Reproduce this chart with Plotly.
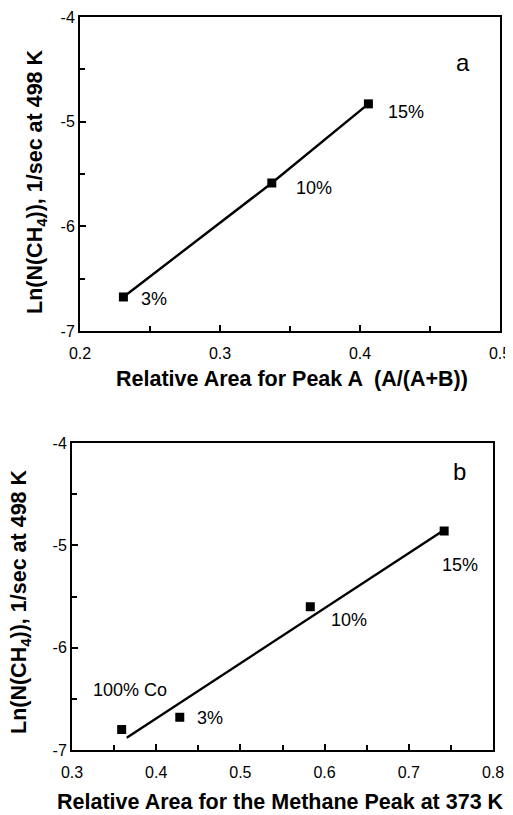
import plotly.graph_objects as go

# ---- data: panel a ----
a_x = [0.231, 0.337, 0.406]
a_y = [-6.675, -5.586, -4.83]
a_labels = ["3%", "10%", "15%"]

# ---- data: panel b ----
b_x = [0.359, 0.428, 0.583, 0.742]
b_y = [-6.80, -6.68, -5.60, -4.86]
b_labels = ["100% Co", "3%", "10%", "15%"]
b_fit_x = [0.365, 0.742]
b_fit_y = [-6.88, -4.85]

a_xticks = [0.2, 0.3, 0.4, 0.5]
b_xticks = [0.3, 0.4, 0.5, 0.6, 0.7, 0.8]
yticks = [-7, -6, -5, -4]

# page body has an 8px default margin; size the figure to fit the window
OFF = 8
W, H = 513 - OFF, 815 - OFF
FONT = "Liberation Sans, Arial, Helvetica, sans-serif"

fig = go.Figure()

fig.add_trace(go.Scatter(x=a_x, y=a_y, mode="lines+markers",
                         line=dict(color="black", width=2.4),
                         marker=dict(symbol="square", size=9, color="black"),
                         xaxis="x", yaxis="y", showlegend=False))
fig.add_trace(go.Scatter(x=b_fit_x, y=b_fit_y, mode="lines",
                         line=dict(color="black", width=2.4),
                         xaxis="x2", yaxis="y2", showlegend=False))
fig.add_trace(go.Scatter(x=b_x, y=b_y, mode="markers",
                         marker=dict(symbol="square", size=9, color="black"),
                         xaxis="x2", yaxis="y2", showlegend=False))

def px_x(p):
    return (p - OFF) / W

def px_y(p):
    return 1 - (p - OFF) / H

axis_common = dict(showline=True, linecolor="black", linewidth=2, mirror=True,
                   ticks="inside", ticklen=6, tickwidth=1.5, tickcolor="black",
                   showgrid=False, zeroline=False, automargin=False,
                   tickfont=dict(family=FONT, size=16, color="black"))

fig.update_layout(
    width=W, height=H, margin=dict(l=0, r=0, t=0, b=0, autoexpand=False),
    paper_bgcolor="white", plot_bgcolor="white",
    xaxis=dict(axis_common, domain=[px_x(80), px_x(500)], range=[0.2, 0.5],
               tickvals=a_xticks, ticktext=[str(v) for v in a_xticks],
               ticklabelstandoff=7,
               minor=dict(ticks="inside", dtick=0.05, tick0=0.2, ticklen=5,
                          tickwidth=1.5, tickcolor="black"),
               anchor="y"),
    yaxis=dict(axis_common, domain=[px_y(331), px_y(17)], range=[-7, -4],
               tickvals=yticks, ticktext=[str(v) for v in yticks],
               minor=dict(ticks="inside", dtick=0.5, tick0=-7, ticklen=5,
                          tickwidth=1.5, tickcolor="black"),
               anchor="x"),
    xaxis2=dict(axis_common, domain=[px_x(72), px_x(493)], range=[0.3, 0.8],
                tickvals=b_xticks, ticktext=[str(v) for v in b_xticks],
                ticklabelstandoff=7,
                minor=dict(ticks="inside", dtick=0.05, tick0=0.3, ticklen=5,
                           tickwidth=1.5, tickcolor="black"),
                anchor="y2"),
    yaxis2=dict(axis_common, domain=[px_y(750), px_y(443)], range=[-7, -4],
                tickvals=yticks, ticktext=[str(v) for v in yticks],
                minor=dict(ticks="inside", dtick=0.5, tick0=-7, ticklen=5,
                           tickwidth=1.5, tickcolor="black"),
                anchor="x2"),
)

ann = []
title_font = dict(family=FONT, size=21.5, color="black")
ytitle = "<b>Ln(N(CH<sub>4</sub>)), 1/sec at 498 K</b>"
ann.append(dict(text=ytitle, xref="paper", yref="paper", x=px_x(36), y=px_y(182),
                textangle=-90, showarrow=False, font=title_font,
                xanchor="center", yanchor="middle"))
ann.append(dict(text=ytitle, xref="paper", yref="paper", x=px_x(20), y=px_y(602),
                textangle=-90, showarrow=False, font=title_font,
                xanchor="center", yanchor="middle"))
ann.append(dict(text="<b>Relative Area for Peak A  (A/(A+B))</b>", xref="paper", yref="paper",
                x=px_x(292), y=px_y(379), showarrow=False, font=title_font,
                xanchor="center", yanchor="middle"))
ann.append(dict(text="<b>Relative Area for the Methane Peak at 373 K</b>", xref="paper", yref="paper",
                x=px_x(280), y=px_y(802), showarrow=False, font=title_font,
                xanchor="center", yanchor="middle"))
# panel letters
ann.append(dict(text="a", xref="paper", yref="paper", x=px_x(472), y=px_y(47),
                showarrow=False, font=dict(family=FONT, size=24, color="black")))
ann.append(dict(text="b", xref="paper", yref="paper", x=px_x(468), y=px_y(471),
                showarrow=False, font=dict(family=FONT, size=24, color="black")))

lab_font = dict(family=FONT, size=18, color="black")
a_offsets = [(16, -2), (22, -5), (18, -8)]
for xv, yv, t, (dx, dy) in zip(a_x, a_y, a_labels, a_offsets):
    ann.append(dict(text=t, x=xv, y=yv, xref="x", yref="y", showarrow=False,
                    xanchor="left", yanchor="middle", xshift=dx, yshift=dy, font=lab_font))
b_offsets = [(8, 40, "center"), (15, -1, "left"), (19, -13, "left"), (16, -34, "center")]
for xv, yv, t, (dx, dy, xa) in zip(b_x, b_y, b_labels, b_offsets):
    ann.append(dict(text=t, x=xv, y=yv, xref="x2", yref="y2", showarrow=False,
                    xanchor=xa, yanchor="middle", xshift=dx, yshift=dy, font=lab_font))

fig.update_layout(annotations=ann)
fig.write_html("out.html")
